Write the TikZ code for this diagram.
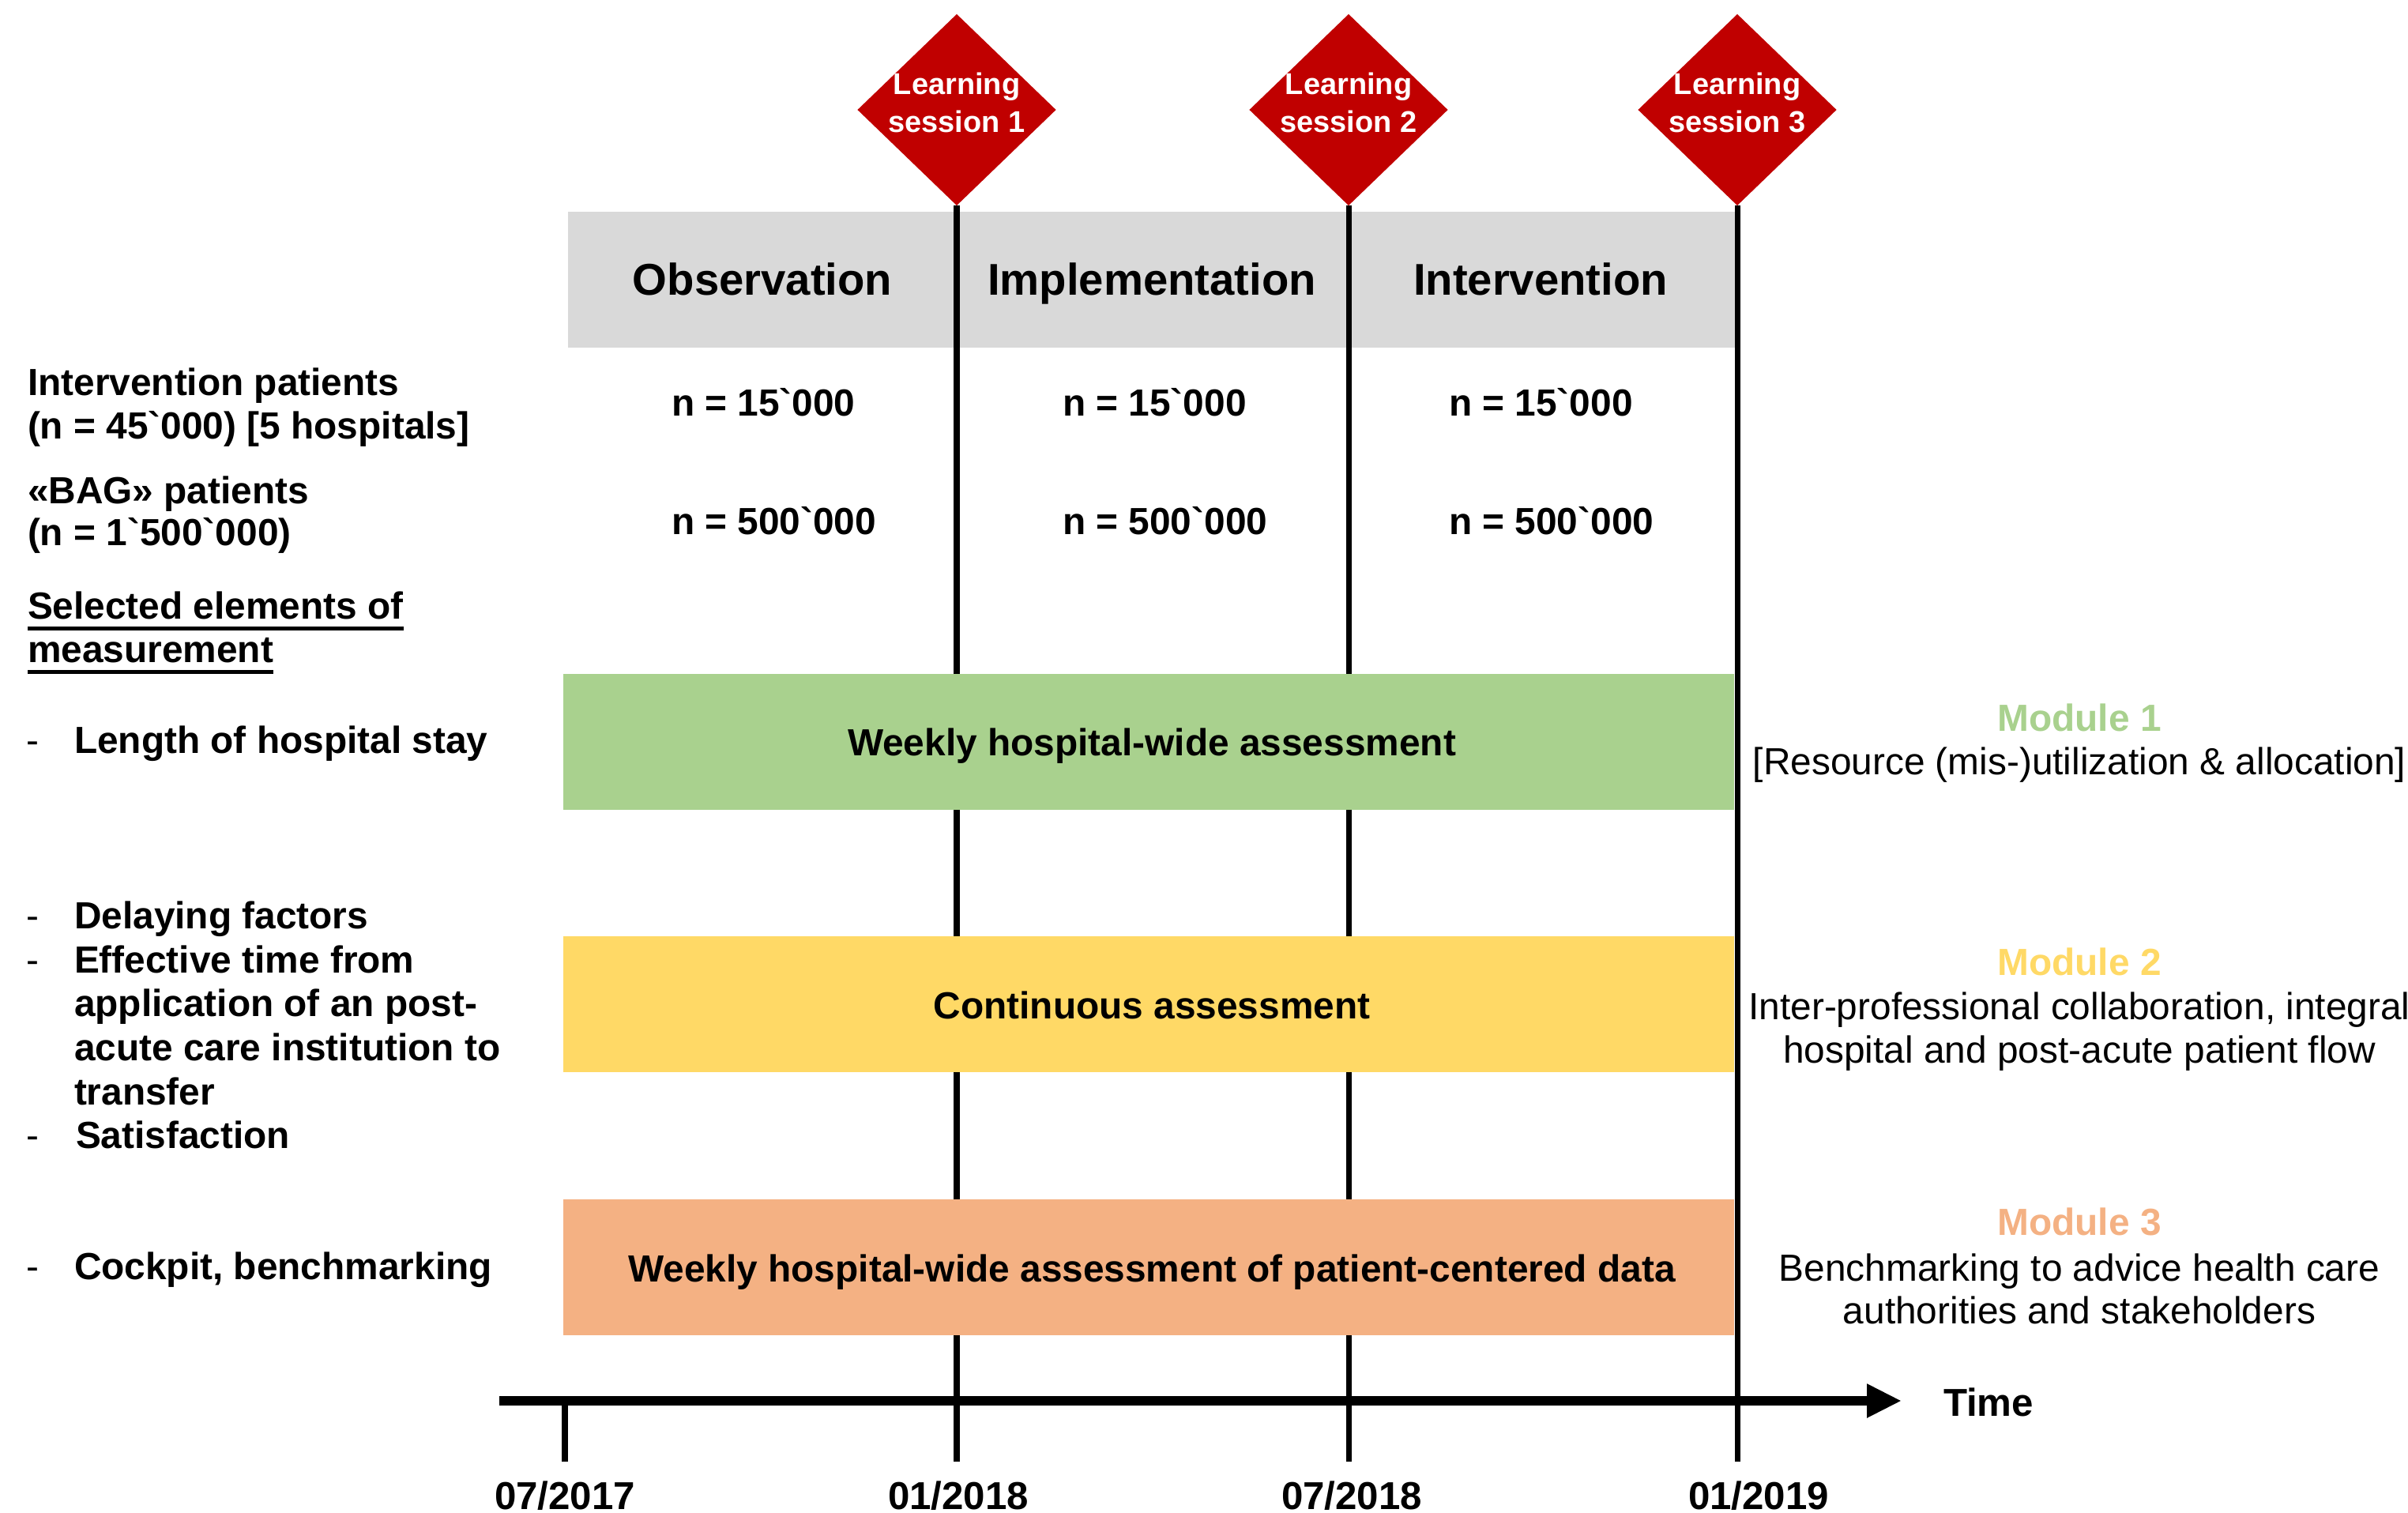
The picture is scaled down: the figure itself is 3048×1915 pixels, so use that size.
\documentclass[tikz,border=0pt]{standalone}
\usepackage{fontspec}
\setmainfont{Liberation Sans}[Ligatures=TeXOff]
\usetikzlibrary{shapes.geometric,arrows.meta}
\definecolor{lsred}{HTML}{C00000}
\definecolor{hdrgray}{HTML}{D9D9D9}
\definecolor{mgreen}{HTML}{A9D18E}
\definecolor{myellow}{HTML}{FFD966}
\definecolor{morange}{HTML}{F4B183}
\newsavebox\ulbox
\newcommand\myul[1]{\sbox\ulbox{#1}\rlap{\rule[-4.3pt]{\wd\ulbox}{1.4pt}}\usebox\ulbox}
\newcommand\bt{\symbol{96}}
\tikzset{
  txt/.style={inner sep=0pt, outer sep=0pt},
  bodyl/.style={txt, anchor=base west, font=\fontsize{13.6}{15}\selectfont\bfseries},
  bodyc/.style={txt, anchor=base, font=\fontsize{13.6}{15}\selectfont\bfseries},
  regc/.style={txt, anchor=base, font=\fontsize{13.6}{15}\selectfont},
  dashmark/.style={txt, anchor=base west, font=\fontsize{13.6}{15}\selectfont},
  hdr/.style={txt, anchor=base, font=\fontsize{16}{18}\selectfont\bfseries},
  datelbl/.style={txt, anchor=base, font=\fontsize{14}{16}\selectfont\bfseries},
  dtext/.style={txt, anchor=base, text=white, font=\fontsize{10.8}{12}\selectfont\bfseries},
  lsdiam/.style={diamond, fill=lsred, minimum width=2.51cm, minimum height=2.42cm, inner sep=0pt, outer sep=0pt},
  vline/.style={line width=2pt, draw=black},
  axisline/.style={line width=3.4pt, draw=black, -{Triangle[length=12.5pt,width=11.4pt]}},
  barbox/.style={rectangle, draw=none, inner sep=0pt, outer sep=0pt, minimum width=14.82cm, minimum height=1.71cm},
}
\begin{document}
\begin{tikzpicture}[x=0.01cm,y=-0.01cm]
\useasboundingbox (0,0) rectangle (3048,1915);

% header band
\node[rectangle, fill=hdrgray, inner sep=0pt, minimum width=14.78cm, minimum height=1.72cm] (hdrband) at (1458,354) {};

% learning session diamonds
\node[lsdiam] (d1) at (1211,139) {};
\node[lsdiam] (d2) at (1707,139) {};
\node[lsdiam] (d3) at (2199,139) {};
\node[dtext] (d1a) at (1211,120) {Learning};
\node[dtext] (d1b) at (1211,167) {session 1};
\node[dtext] (d2a) at (1707,120) {Learning};
\node[dtext] (d2b) at (1707,167) {session 2};
\node[dtext] (d3a) at (2199,120) {Learning};
\node[dtext] (d3b) at (2199,167) {session 3};

% vertical milestone lines
\coordinate (e0) at (715,1850);
\coordinate (e1) at (1211,1850);
\coordinate (e2) at (1707,1850);
\coordinate (e3) at (2199,1850);
\coordinate (t0) at (715,1773);
\draw[vline] (d1.south) -- (e1);
\draw[vline] (d2.south) -- (e2);
\draw[vline] (d3.south) -- (e3);
\draw[vline] (t0) -- (e0);

% phase headers
\node[hdr] (ph1) at (965,373) {Observation};
\node[hdr] (ph2) at (1458,373) {Implementation};
\node[hdr] (ph3) at (1950,373) {Intervention};

% n rows
\node[bodyl] (n11) at (850,526) {n = 15\bt 000};
\node[bodyl] (n12) at (1345,526) {n = 15\bt 000};
\node[bodyl] (n13) at (1834,526) {n = 15\bt 000};
\node[bodyl] (n21) at (850,676) {n = 500\bt 000};
\node[bodyl] (n22) at (1345,676) {n = 500\bt 000};
\node[bodyl] (n23) at (1834,676) {n = 500\bt 000};

% colored bars
\node[barbox, fill=mgreen] (bar1) at (1454,939) {};
\node[barbox, fill=myellow] (bar2) at (1454,1271) {};
\node[barbox, fill=morange] (bar3) at (1454,1604) {};
\node[bodyc] (bar1t) at (1458,956) {Weekly hospital-wide assessment};
\node[bodyc] (bar2t) at (1458,1289) {Continuous assessment};
\node[bodyc] (bar3t) at (1458,1622) {Weekly hospital-wide assessment of patient-centered data};

% left column
\node[bodyl] (l1) at (35,500) {Intervention patients};
\node[bodyl] (l2) at (35,555) {(n = 45\bt 000) [5 hospitals]};
\node[bodyl] (l3) at (35,637) {«BAG» patients};
\node[bodyl] (l4) at (35,690) {(n = 1\bt 500\bt 000)};
\node[bodyl] (l5) at (35,783) {\myul{Selected elements of}};
\node[bodyl] (l6) at (35,838) {\myul{measurement}};

\node[dashmark] (m1d) at (33,953) {-};
\node[bodyl] (m1) at (94,953) {Length of hospital stay};
\node[dashmark] (m2d) at (33,1175) {-};
\node[bodyl] (m2) at (94,1175) {Delaying factors};
\node[dashmark] (m3d) at (33,1231) {-};
\node[bodyl] (m3a) at (94,1231) {Effective time from};
\node[bodyl] (m3b) at (94,1286) {application of an post-};
\node[bodyl] (m3c) at (94,1342) {acute care institution to};
\node[bodyl] (m3e) at (94,1398) {transfer};
\node[dashmark] (m4d) at (33,1453) {-};
\node[bodyl] (m4) at (96,1453) {Satisfaction};
\node[dashmark] (m5d) at (33,1619) {-};
\node[bodyl] (m5) at (94,1619) {Cockpit, benchmarking};

% modules (right)
\node[bodyc, text=mgreen] (mod1) at (2632,925) {Module 1};
\node[regc] (mod1a) at (2632,980) {[Resource (mis-)utilization \& allocation]};
\node[bodyc, text=myellow] (mod2) at (2632,1234) {Module 2};
\node[regc] (mod2a) at (2632,1290) {Inter-professional collaboration, integral};
\node[regc] (mod2b) at (2632,1345) {hospital and post-acute patient flow};
\node[bodyc, text=morange] (mod3) at (2632,1563) {Module 3};
\node[regc] (mod3a) at (2632,1621) {Benchmarking to advice health care};
\node[regc] (mod3b) at (2632,1675) {authorities and stakeholders};

% time axis
\coordinate (ax0) at (632,1773);
\coordinate (ax1) at (2407,1773);
\draw[axisline] (ax0) -- (ax1);
\node[datelbl, anchor=base west] (time) at (2460,1792) {Time};

% dates
\node[datelbl] (dt0) at (715,1910) {07/2017};
\node[datelbl] (dt1) at (1213,1910) {01/2018};
\node[datelbl] (dt2) at (1711,1910) {07/2018};
\node[datelbl] (dt3) at (2226,1910) {01/2019};
\end{tikzpicture}
\end{document}
